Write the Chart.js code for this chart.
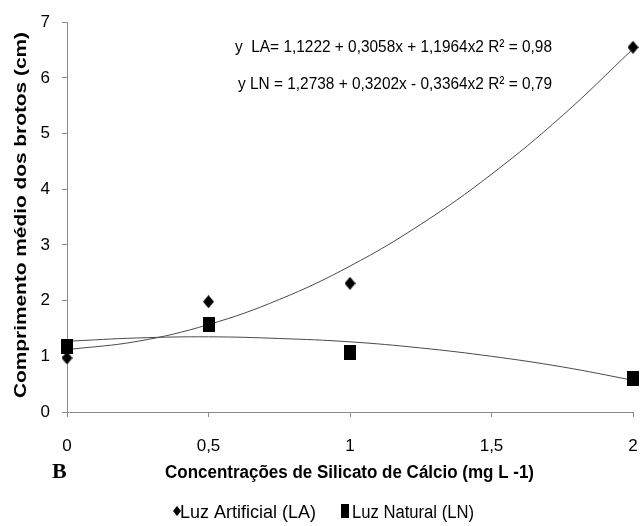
<!DOCTYPE html>
<html>
<head>
<meta charset="utf-8">
<script src="https://cdn.jsdelivr.net/npm/chart.js@4.4.1/dist/chart.umd.min.js"></script>
<style>
  html, body { margin: 0; padding: 0; background: #fff; }
  #wrap { width: 641px; height: 526px; }
</style>
</head>
<body>
<div id="wrap"><canvas id="chart" width="641" height="526"></canvas></div>
<script>
// valores
const concentracoes = [0, 0.5, 1, 2];
const luzArtificial = [0.97, 1.98, 2.31, 6.55];
const luzNatural = [1.17, 1.58, 1.06, 0.6];

// curvas de tendência
const xTendencia = [0, 0.25, 0.5, 0.75, 1, 1.25, 1.5, 1.75, 2];
const tendenciaLA = [1.12, 1.27, 1.57, 2.02, 2.62, 3.37, 4.27, 5.32, 6.52];
const tendenciaLN = [1.27, 1.33, 1.35, 1.32, 1.26, 1.15, 1.0, 0.81, 0.57];

const equacoes = [
  "y  LA= 1,1222 + 0,3058x + 1,1964x2 R² = 0,98",
  "y LN = 1,2738 + 0,3202x - 0,3364x2 R² = 0,79",
];
const tituloX = "Concentrações de Silicato de Cálcio (mg L -1)";
const tituloY = "Comprimento médio dos brotos (cm)";
const legendas = ["Luz Artificial (LA)", "Luz Natural (LN)"];

const axisColor = "#8a8a8a";
const fonte = "'Liberation Sans', Arial, sans-serif";

function pontos(xs, ys) {
  return xs.map((x, i) => ({ x: x, y: ys[i] }));
}

// marcadores desenhados num canvas pequeno (losango e quadrado um pouco altos)
function losango(w, h) {
  const c = document.createElement("canvas");
  c.width = w; c.height = h;
  const g = c.getContext("2d");
  g.fillStyle = "#000";
  g.beginPath();
  g.moveTo(w / 2, 0); g.lineTo(w, h / 2); g.lineTo(w / 2, h); g.lineTo(0, h / 2);
  g.closePath(); g.fill();
  return c;
}
function quadrado(w, h) {
  const c = document.createElement("canvas");
  c.width = w; c.height = h;
  const g = c.getContext("2d");
  g.fillStyle = "#000";
  g.fillRect(0, 0, w, h);
  return c;
}

const textoPlugin = {
  id: "textoExtra",
  afterDraw(chart) {
    const ctx = chart.ctx;
    ctx.save();
    ctx.fillStyle = "#000";
    ctx.textAlign = "left";
    ctx.textBaseline = "middle";

    // equações
    ctx.font = "17px " + fonte;
    ctx.fillText(equacoes[0], 235, 47, 317);
    ctx.fillText(equacoes[1], 238, 84, 314);

    // título do eixo x
    ctx.textBaseline = "alphabetic";
    ctx.font = "bold 18px " + fonte;
    ctx.fillText(tituloX, 165, 478, 369);

    // título do eixo y (esticado no comprimento)
    ctx.save();
    ctx.font = "bold 17px " + fonte;
    const w = ctx.measureText(tituloY).width;
    ctx.translate(25.5, 215);
    ctx.rotate(-Math.PI / 2);
    ctx.scale(366 / w, 1);
    ctx.textAlign = "center";
    ctx.fillText(tituloY, 0, 0);
    ctx.restore();

    // letra B
    ctx.font = "bold 22px 'Liberation Serif', 'Times New Roman', serif";
    ctx.fillText("B", 52, 478);

    // legenda
    ctx.font = "18px " + fonte;
    ctx.drawImage(losango(8, 10), 173, 506);
    ctx.fillText(legendas[0], 180, 518, 136);
    ctx.fillRect(341, 504, 8, 14);
    ctx.fillText(legendas[1], 352, 518, 122);
    ctx.restore();
  },
};

const ctx = document.getElementById("chart").getContext("2d");
new Chart(ctx, {
  type: "scatter",
  data: {
    datasets: [
      {
        label: legendas[0],
        data: pontos(concentracoes, luzArtificial),
        pointStyle: losango(11, 13),
        backgroundColor: "#000",
        borderColor: "#000",
        clip: false,
        order: 1,
      },
      {
        label: legendas[1],
        data: pontos(concentracoes, luzNatural),
        pointStyle: quadrado(12, 15),
        backgroundColor: "#000",
        borderColor: "#000",
        clip: false,
        order: 1,
      },
      {
        label: "trendLA",
        type: "line",
        data: pontos(xTendencia, tendenciaLA),
        borderColor: "#4a4a4a",
        borderWidth: 1,
        pointRadius: 0,
        tension: 0.4,
        fill: false,
        order: 2,
      },
      {
        label: "trendLN",
        type: "line",
        data: pontos(xTendencia, tendenciaLN),
        borderColor: "#4a4a4a",
        borderWidth: 1,
        pointRadius: 0,
        tension: 0.4,
        fill: false,
        order: 2,
      },
    ],
  },
  options: {
    responsive: false,
    animation: false,
    layout: { autoPadding: false, padding: { top: 19, right: 8, bottom: 0, left: 0 } },
    plugins: {
      tooltip: { enabled: false },
      legend: { display: false },
    },
    scales: {
      x: {
        type: "linear",
        min: 0,
        max: 2,
        ticks: {
          stepSize: 0.5,
          padding: 19,
          color: "#000",
          font: { size: 17, family: fonte },
          callback: (v) => String(v).replace(".", ","),
        },
        grid: { drawOnChartArea: false, drawTicks: true, tickLength: 5, color: axisColor },
        border: { display: true, color: axisColor },
        afterFit: (scale) => {
          scale.height = 114;
          // o padding dos rótulos não deve empurrar a borda direita
          scale.paddingLeft = 5;
          scale.paddingRight = 5;
        },
      },
      y: {
        min: 0,
        max: 7,
        ticks: {
          stepSize: 1,
          padding: 12,
          color: "#000",
          font: { size: 17, family: fonte },
        },
        grid: { drawOnChartArea: false, drawTicks: true, tickLength: 5, color: axisColor },
        border: { display: true, color: axisColor },
        afterFit: (scale) => { scale.width = 67; },
      },
    },
  },
  plugins: [textoPlugin],
});
</script>
</body>
</html>
